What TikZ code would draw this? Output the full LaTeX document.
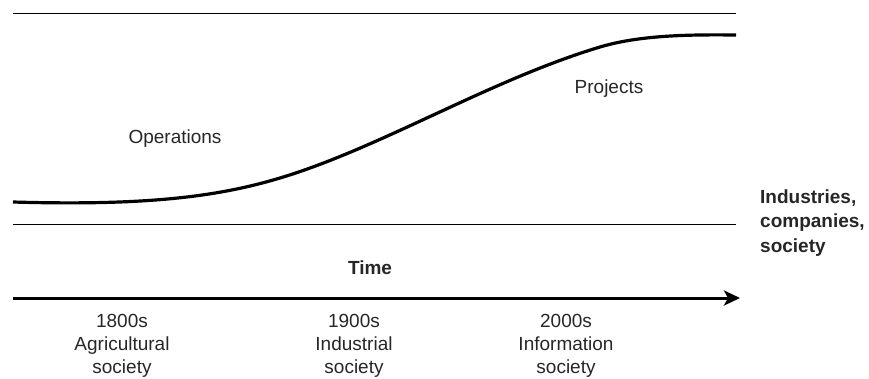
\documentclass[tikz,border=0pt]{standalone}
\usepackage{fontspec}
\setmainfont{Liberation Sans}
\usetikzlibrary{arrows.meta}

\tikzset{
  lbl/.style={font=\fontsize{19}{23}\selectfont, text=black!85, align=center, inner sep=0pt},
  bold lbl/.style={lbl, font=\fontsize{19}{24.5}\selectfont\bfseries}
}

\begin{document}
\begin{tikzpicture}[x=1pt,y=-1pt]
      \useasboundingbox (0,0) rectangle (869,378);

      % frame lines
      \draw[line width=1pt] (13,13) -- (736,13);
      \draw[line width=1pt] (13,224) -- (736,224);

      % S-curve
      \draw[line width=3.2pt] (13,202) .. controls (150,206) and (220,196) .. (280,178)
        .. controls (380,148) and (490,80) .. (600,47)
        .. controls (640,35) and (690,34.5) .. (736,35);

      \node[lbl] (ops) at (175,139) {Operations};
      \node[lbl] (proj) at (609,89) {Projects};
      \node[bold lbl,align=left,anchor=west] (ind) at (760,223) {Industries,\\companies,\\society};

      % time axis
      \node[bold lbl] (time) at (370,268) {Time};
      \coordinate (t0) at (13,298);
      \coordinate (t1) at (740,298);
      \draw[line width=3pt,-{Stealth[length=16pt,width=15pt,inset=4pt]}] (t0) -- (t1);

      \node[lbl] (agr) at (122,346) {1800s\\Agricultural\\society};
      \node[lbl] (ind2) at (354,346) {1900s\\Industrial\\society};
      \node[lbl] (inf) at (566,346) {2000s\\Information\\society};
    \end{tikzpicture}
\end{document}
